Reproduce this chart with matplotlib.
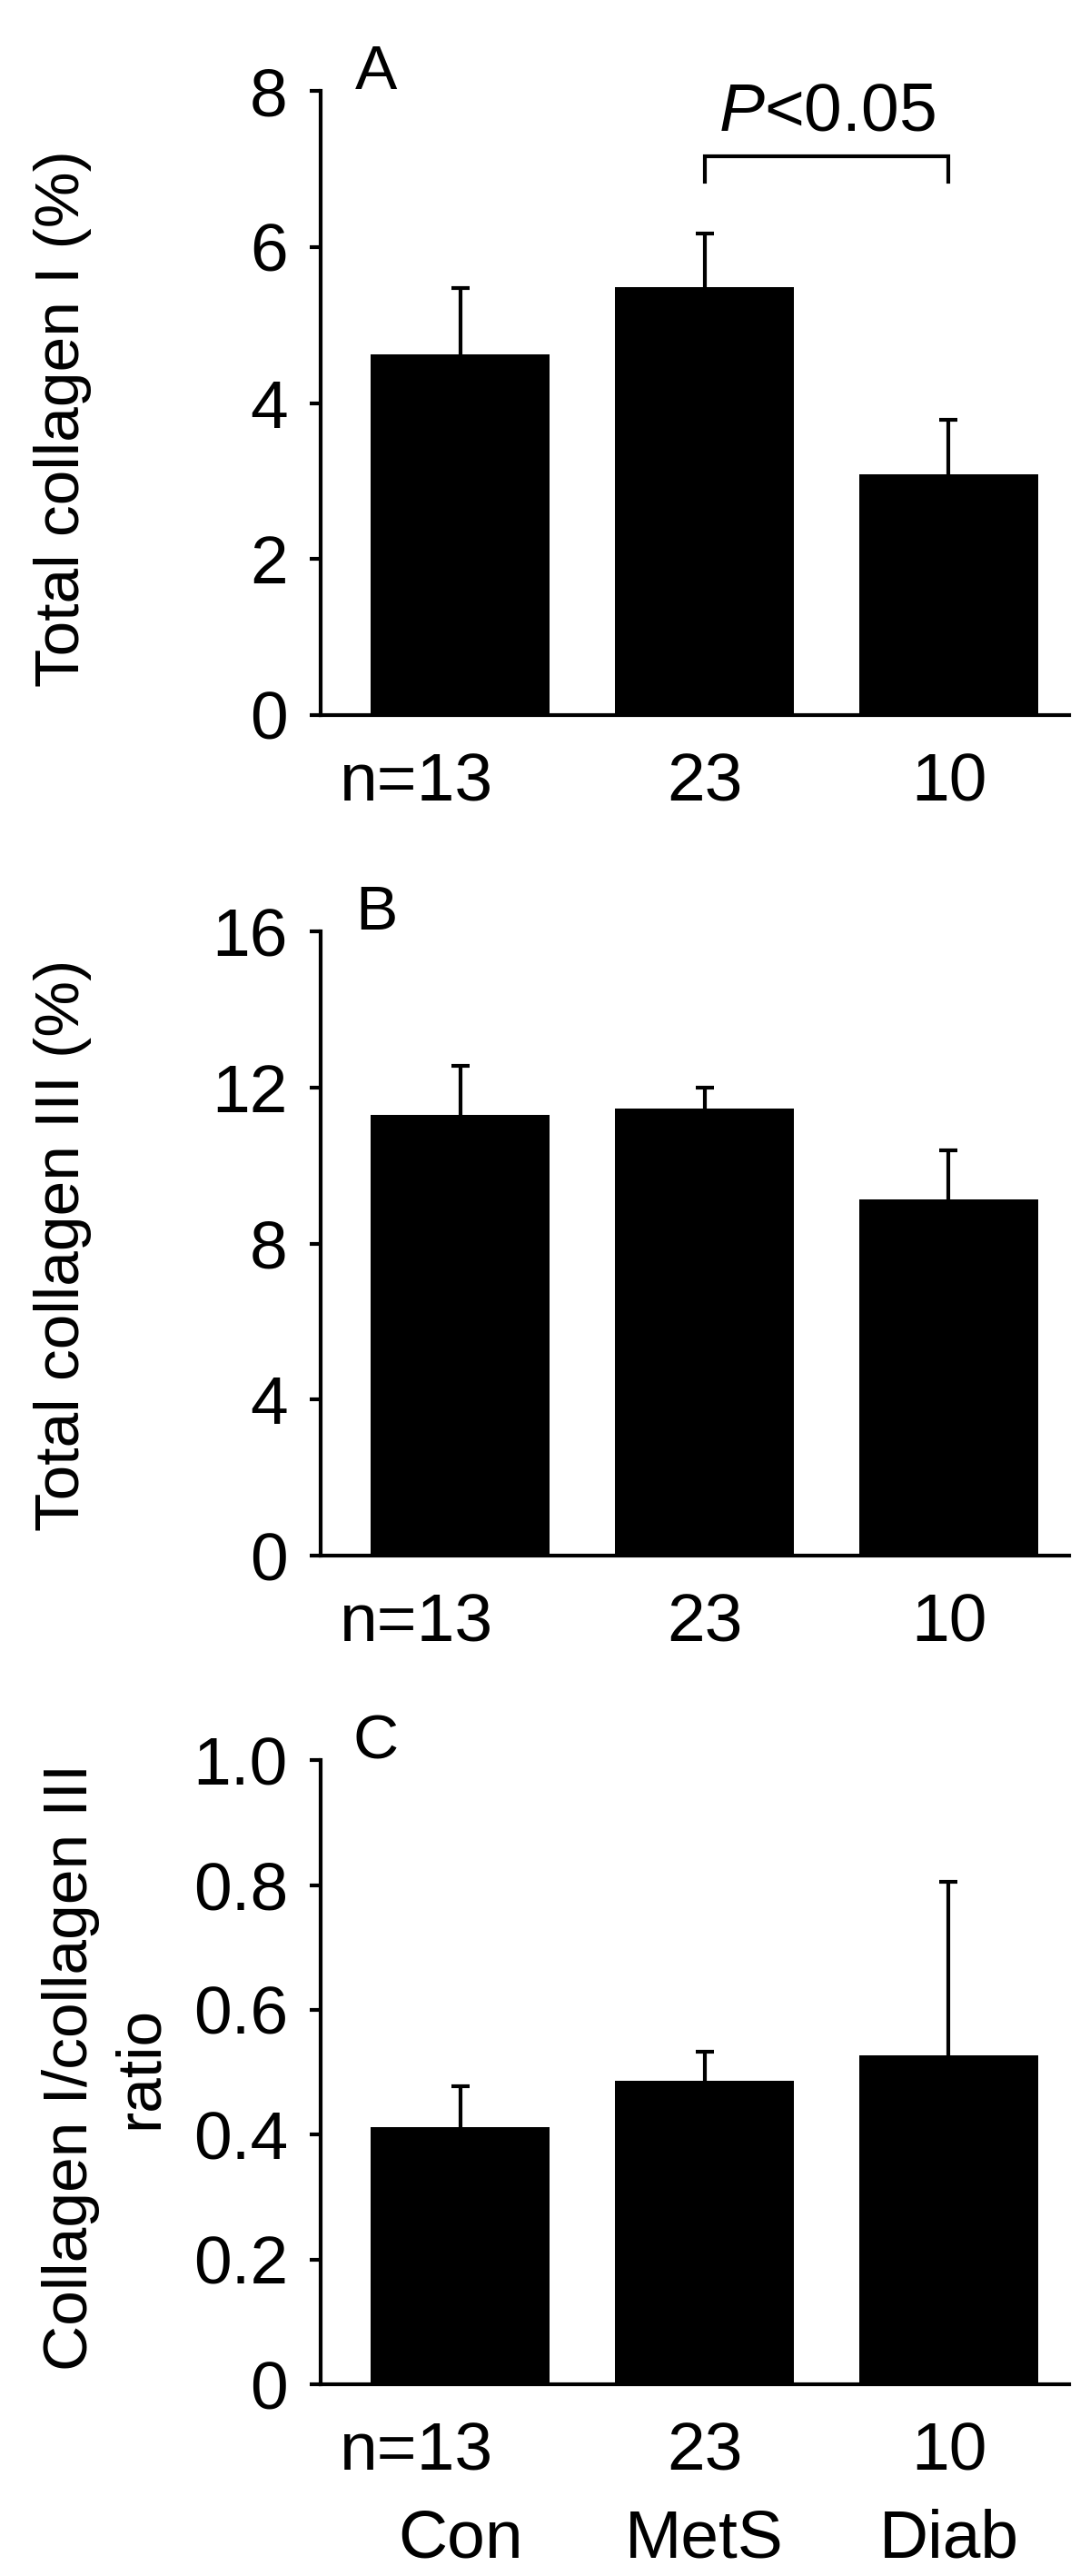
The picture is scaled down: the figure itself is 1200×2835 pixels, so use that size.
import matplotlib
matplotlib.use("Agg")
import matplotlib.pyplot as plt
import numpy as np

plt.rcParams['font.family'] = ['Liberation Sans', 'DejaVu Sans']
plt.rcParams['mathtext.fontset'] = 'custom'
plt.rcParams['mathtext.rm'] = 'Liberation Sans'
plt.rcParams['mathtext.it'] = 'Liberation Sans:italic'

# groups and sample sizes
groups = ["Con", "MetS", "Diab"]
n_labels = ["n=13", "23", "10"]

# panel A: total collagen I (%)
col1_mean = [4.62, 5.48, 3.09]
col1_upper = [5.47, 6.17, 3.79]

# panel B: total collagen III (%)
col3_mean = [11.29, 11.47, 9.13]
col3_upper = [12.56, 12.00, 10.39]

# panel C: collagen I / collagen III ratio
ratio_mean = [0.412, 0.486, 0.527]
ratio_upper = [0.477, 0.533, 0.805]

LW = 3.0
FS = 54
x = np.arange(len(groups))

fig = plt.figure(figsize=(12, 28.35), dpi=100)


def draw_panel(rect, means, upper, ymax, yticks, yticklabels, letter,
               ylabel, ylabel_x, ylabel_y, show_groups=False):
    ax = fig.add_axes(rect)
    means = np.array(means)
    errs = np.array(upper) - means
    ax.bar(x, means, width=0.732, color='black', edgecolor='none', zorder=2)
    _, caps, _ = ax.errorbar(x, means, yerr=[np.zeros_like(errs), errs], fmt='none',
                             ecolor='black', elinewidth=LW, capsize=7.5,
                             capthick=LW, zorder=1)
    caps[0].set_visible(False)  # only the upper cap is drawn
    ax.set_xlim(-0.571, 2.493)
    ax.set_ylim(0, ymax)
    for s in ['top', 'right']:
        ax.spines[s].set_visible(False)
    for s in ['left', 'bottom']:
        ax.spines[s].set_linewidth(LW)
        ax.spines[s].set_zorder(3)
    ax.set_xticks([])
    ax.set_yticks(yticks)
    ax.set_yticklabels(yticklabels, fontsize=FS)
    ax.tick_params(axis='y', direction='out', length=9, width=LW, pad=17)

    # n labels under the bars
    offsets = [-0.18, 0.0, 0.0]
    for i, lab in enumerate(n_labels):
        ax.annotate(lab, xy=(x[i] + offsets[i], 0), xycoords=('data', 'axes fraction'),
                    xytext=(0, -68), textcoords='offset points',
                    ha='center', va='baseline', fontsize=FS, annotation_clip=False)
        if show_groups:
            ax.annotate(groups[i], xy=(x[i], 0), xycoords=('data', 'axes fraction'),
                        xytext=(0, -137), textcoords='offset points',
                        ha='center', va='baseline', fontsize=FS, annotation_clip=False)

    ax.text(0.074, 1.003, letter, transform=ax.transAxes, ha='center',
            va='baseline', fontsize=50)
    ax.text(ylabel_x, ylabel_y, ylabel, transform=ax.transAxes, rotation=90,
            ha='center', va='center', fontsize=50, multialignment='center',
            linespacing=1.25)
    return ax


axA = draw_panel([0.2942, 0.7224, 0.6867, 0.2423], col1_mean, col1_upper, 8,
                 [0, 2, 4, 6, 8], ["0", "2", "4", "6", "8"], "A",
                 "Total collagen I (%)", -0.345, 0.475)

# significance bracket between MetS and Diab
br_lo, br_hi = 6.84, 7.16
axA.plot([x[1], x[1], x[2], x[2]], [br_lo, br_hi, br_hi, br_lo], color='black',
         lw=LW, solid_joinstyle='miter', clip_on=False)
axA.text((x[1] + x[2]) / 2, 7.5, r'$\mathit{P}$<0.05', ha='center', va='baseline',
         fontsize=FS)

draw_panel([0.2942, 0.3961, 0.6867, 0.2423], col3_mean, col3_upper, 16,
           [0, 4, 8, 12, 16], ["0", "4", "8", "12", "16"], "B",
           "Total collagen III (%)", -0.345, 0.498)

draw_panel([0.2942, 0.0744, 0.6867, 0.2423], ratio_mean, ratio_upper, 1.0,
           [0, 0.2, 0.4, 0.6, 0.8, 1.0], ["0", "0.2", "0.4", "0.6", "0.8", "1.0"], "C",
           "Collagen I/collagen III\nratio", -0.287, 0.508, show_groups=True)

fig.savefig("out.png", dpi=100)
